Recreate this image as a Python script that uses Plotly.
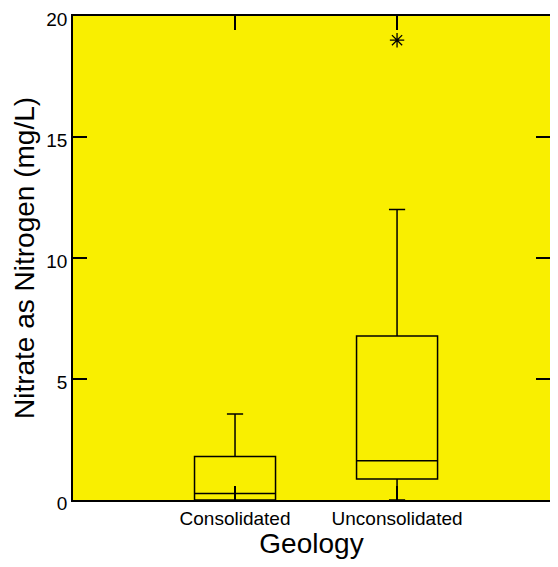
import plotly.graph_objects as go

categories = ["Consolidated", "Unconsolidated"]
positions = [1, 2]
q1 = [0.0, 0.87]
median = [0.27, 1.62]
q3 = [1.8, 6.78]
lowerfence = [0.0, 0.0]
upperfence = [3.55, 12.0]
outlier_x = [2]
outlier_y = [19.0]

y_ticks = [0, 5, 10, 15, 20]

FONT = "Liberation Sans, Arial, sans-serif"
YELLOW = "#F9EF00"

fig = go.Figure()
for i in range(len(categories)):
    fig.add_trace(go.Box(
        x=[positions[i]], q1=[q1[i]], median=[median[i]], q3=[q3[i]],
        lowerfence=[lowerfence[i]], upperfence=[upperfence[i]],
        width=0.5, whiskerwidth=0.2, boxpoints=False,
        fillcolor="rgba(0,0,0,0)", line=dict(color="black", width=1.5),
        showlegend=False, hoverinfo="skip",
    ))

fig.add_trace(go.Scatter(
    x=outlier_x, y=outlier_y, mode="markers",
    marker=dict(symbol="asterisk-open", size=12, color="black",
                line=dict(color="black", width=1.3)),
    showlegend=False,
))

# invisible trace for the right-side tick axis
fig.add_trace(go.Scatter(x=[positions[0]], y=[0], yaxis="y2", mode="markers",
                         marker=dict(opacity=0), showlegend=False, hoverinfo="skip"))

fig.update_layout(
    width=542, height=551,
    margin=dict(l=65, r=0, t=8, b=59, autoexpand=False),
    paper_bgcolor="white", plot_bgcolor=YELLOW,
    font=dict(family=FONT, color="black"),
    xaxis=dict(
        range=[0, 2.944], tickvals=positions, ticktext=categories,
        ticks="inside", ticklen=14, tickwidth=1.5, tickcolor="black",
        showline=True, linecolor="black", linewidth=1.5, mirror="ticks",
        showgrid=False, zeroline=False, automargin=False,
        tickfont=dict(size=19, family=FONT),
        title=dict(text="Geology", font=dict(size=28, family=FONT), standoff=2),
    ),
    yaxis=dict(
        range=[0, 20], tickvals=y_ticks, ticklabeloverflow="allow",
        ticklabelshift=3,
        ticks="inside", ticklen=14, tickwidth=1.5, tickcolor="black",
        showline=True, linecolor="black", linewidth=1.5,
        showgrid=False, zeroline=False, automargin=False,
        tickfont=dict(size=19, family=FONT),
        title=dict(text="Nitrate as Nitrogen (mg/L)", font=dict(size=28, family=FONT), standoff=4),
    ),
    yaxis2=dict(
        range=[0, 20], tickvals=y_ticks, overlaying="y", side="right",
        ticks="inside", ticklen=14, tickwidth=1.5, tickcolor="black",
        showline=False, showgrid=False, zeroline=False, showticklabels=False,
        automargin=False,
    ),
)

fig.write_html("out.html")
